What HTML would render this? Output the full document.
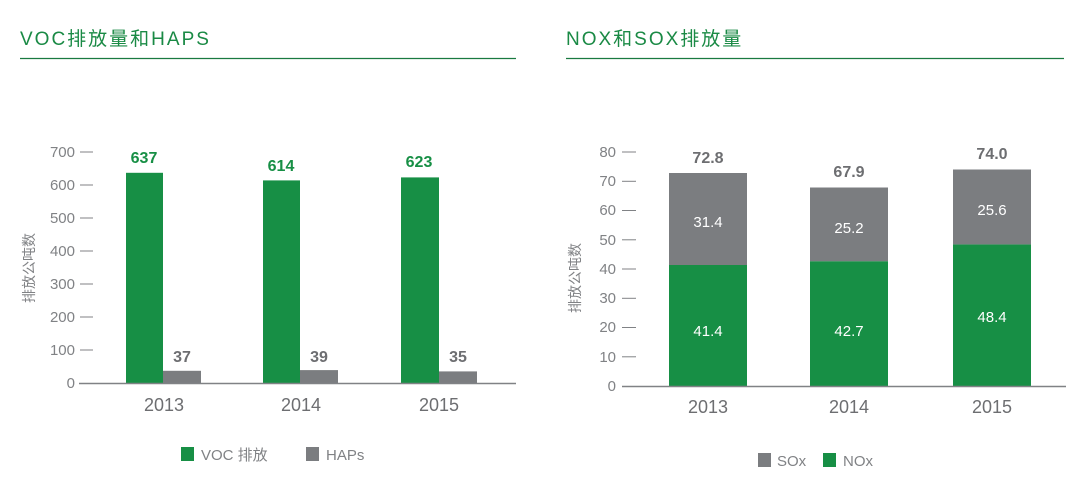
<!DOCTYPE html>
<html><head><meta charset="utf-8"><style>
body{margin:0;background:#fff;}
svg text{font-family:"Liberation Sans","Noto Sans CJK SC",sans-serif;}
</style></head><body>
<svg width="1071" height="491" viewBox="0 0 1071 491" xmlns="http://www.w3.org/2000/svg">
<text x="20" y="45" font-size="19" fill="#1a8a45" letter-spacing="2">VOC排放量和HAPS</text>
<line x1="20" y1="58.5" x2="516" y2="58.5" stroke="#1a7a40" stroke-width="1.2"/>
<text x="566" y="45" font-size="19" fill="#1a8a45" letter-spacing="2">NOX和SOX排放量</text>
<line x1="566" y1="58.5" x2="1064" y2="58.5" stroke="#1a7a40" stroke-width="1.2"/>

<g font-size="15" fill="#808285" text-anchor="end">
<text x="75" y="388">0</text><text x="75" y="355">100</text><text x="75" y="322">200</text><text x="75" y="289">300</text><text x="75" y="256">400</text><text x="75" y="223">500</text><text x="75" y="190">600</text><text x="75" y="157">700</text>
</g>
<g stroke="#808285" stroke-width="1">
<line x1="80" y1="350" x2="93" y2="350"/><line x1="80" y1="317" x2="93" y2="317"/><line x1="80" y1="284" x2="93" y2="284"/><line x1="80" y1="251" x2="93" y2="251"/><line x1="80" y1="218" x2="93" y2="218"/><line x1="80" y1="185" x2="93" y2="185"/><line x1="80" y1="152" x2="93" y2="152"/>
</g>
<text transform="translate(34,268) rotate(-90)" font-size="14" fill="#808285" text-anchor="middle">排放公吨数</text>
<rect x="126" y="172.8" width="37" height="210.2" fill="#178f45"/>
<rect x="163" y="370.8" width="38" height="12.2" fill="#7b7d80"/>
<rect x="263" y="180.4" width="37" height="202.6" fill="#178f45"/>
<rect x="300" y="370.1" width="38" height="12.9" fill="#7b7d80"/>
<rect x="401" y="177.4" width="38" height="205.6" fill="#178f45"/>
<rect x="439" y="371.4" width="38" height="11.6" fill="#7b7d80"/>
<line x1="79" y1="383.5" x2="516" y2="383.5" stroke="#808285" stroke-width="1.5"/>
<g font-size="16" font-weight="bold" text-anchor="middle">
<text x="144" y="163" fill="#178f45">637</text><text x="281" y="171" fill="#178f45">614</text><text x="419" y="167" fill="#178f45">623</text>
<text x="182" y="362" fill="#6d6e71">37</text><text x="319" y="362" fill="#6d6e71">39</text><text x="458" y="362" fill="#6d6e71">35</text>
</g>
<g font-size="18" fill="#6d6e71" text-anchor="middle">
<text x="164" y="411">2013</text><text x="301" y="411">2014</text><text x="439" y="411">2015</text>
</g>
<rect x="181" y="447" width="13" height="14" fill="#178f45"/>
<text x="201" y="460" font-size="15" fill="#808285">VOC 排放</text>
<rect x="306" y="447" width="13" height="14" fill="#7b7d80"/>
<text x="326" y="460" font-size="15" fill="#808285">HAPs</text>

<g font-size="15" fill="#808285" text-anchor="end">
<text x="616" y="391">0</text><text x="616" y="362">10</text><text x="616" y="332">20</text><text x="616" y="303">30</text><text x="616" y="274">40</text><text x="616" y="245">50</text><text x="616" y="215">60</text><text x="616" y="186">70</text><text x="616" y="157">80</text>
</g>
<g stroke="#808285" stroke-width="1">
<line x1="622" y1="356.8" x2="636" y2="356.8"/><line x1="622" y1="327.5" x2="636" y2="327.5"/><line x1="622" y1="298.3" x2="636" y2="298.3"/><line x1="622" y1="269" x2="636" y2="269"/><line x1="622" y1="239.8" x2="636" y2="239.8"/><line x1="622" y1="210.5" x2="636" y2="210.5"/><line x1="622" y1="181.3" x2="636" y2="181.3"/><line x1="622" y1="152" x2="636" y2="152"/>
</g>
<text transform="translate(580,278) rotate(-90)" font-size="14" fill="#808285" text-anchor="middle">排放公吨数</text>
<rect x="669" y="265" width="78" height="121" fill="#178f45"/>
<rect x="669" y="173" width="78" height="92" fill="#7b7d80"/>
<rect x="810" y="261.2" width="78" height="124.8" fill="#178f45"/>
<rect x="810" y="187.5" width="78" height="73.7" fill="#7b7d80"/>
<rect x="953" y="244.4" width="78" height="141.6" fill="#178f45"/>
<rect x="953" y="169.5" width="78" height="74.9" fill="#7b7d80"/>
<line x1="622" y1="386.5" x2="1066" y2="386.5" stroke="#808285" stroke-width="1.5"/>
<g font-size="15" fill="#fff" text-anchor="middle">
<text x="708" y="227">31.4</text><text x="849" y="233">25.2</text><text x="992" y="215">25.6</text>
<text x="708" y="336">41.4</text><text x="849" y="336">42.7</text><text x="992" y="322">48.4</text>
</g>
<g font-size="16" font-weight="bold" fill="#6d6e71" text-anchor="middle">
<text x="708" y="163">72.8</text><text x="849" y="177">67.9</text><text x="992" y="159">74.0</text>
</g>
<g font-size="18" fill="#6d6e71" text-anchor="middle">
<text x="708" y="413">2013</text><text x="849" y="413">2014</text><text x="992" y="413">2015</text>
</g>
<rect x="758" y="453" width="13" height="14" fill="#7b7d80"/>
<text x="777" y="466" font-size="15" fill="#808285">SOx</text>
<rect x="823" y="453" width="13" height="14" fill="#178f45"/>
<text x="843" y="466" font-size="15" fill="#808285">NOx</text>
</svg>
</body></html>
